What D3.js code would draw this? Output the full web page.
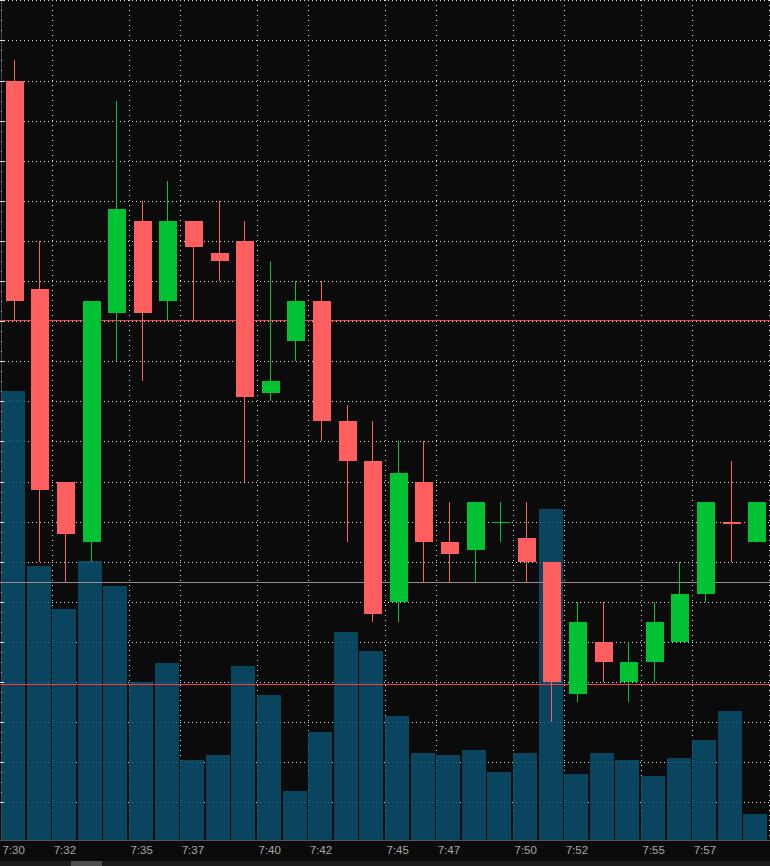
<!DOCTYPE html>
<html>
<head>
<meta charset="utf-8">
<script src="https://cdn.jsdelivr.net/npm/d3@7/dist/d3.min.js"></script>
<style>
  html, body { margin: 0; padding: 0; background: #0b0b0b; overflow: hidden; }
  svg { display: block; }
</style>
</head>
<body>
<svg id="chart" width="770" height="866"></svg>
<script>
// ---------------- DATA ----------------
const times = ["7:30","7:31","7:32","7:33","7:34","7:35","7:36","7:37","7:38","7:39",
               "7:40","7:41","7:42","7:43","7:44","7:45","7:46","7:47","7:48","7:49",
               "7:50","7:51","7:52","7:53","7:54","7:55","7:56","7:57","7:58","7:59"];
const opens  = [62.80,62.28,61.80,61.65,62.22,62.45,62.25,62.45,62.37,62.40,
                62.02,62.15,62.25,61.95,61.85,61.50,61.80,61.65,61.63,61.70,
                61.66,61.60,61.27,61.40,61.30,61.35,61.40,61.52,61.70,61.65];
const highs  = [62.85,62.40,61.80,62.25,62.75,62.50,62.55,62.45,62.50,62.45,
                62.35,62.30,62.30,61.99,61.95,61.90,61.90,61.75,61.75,61.75,
                61.75,61.60,61.50,61.50,61.40,61.50,61.60,61.75,61.85,61.75];
const lows   = [62.20,61.60,61.55,61.60,62.10,62.05,62.20,62.20,62.30,61.80,
                62.00,62.10,61.90,61.65,61.45,61.45,61.55,61.55,61.55,61.65,
                61.55,61.20,61.25,61.30,61.25,61.30,61.40,61.50,61.60,61.65];
const closes = [62.25,61.78,61.67,62.25,62.48,62.22,62.45,62.385,62.35,62.01,
                62.05,62.25,61.95,61.85,61.47,61.82,61.65,61.62,61.75,61.70,
                61.60,61.30,61.45,61.35,61.35,61.45,61.52,61.75,61.695,61.75];
const volumes = [44900,27400,23100,27900,25400,15800,17700,8000,8500,17400,
                 14500,4900,10800,20800,18900,12400,8700,8500,9000,6800,
                 8700,33100,6600,8700,8000,6400,8200,10000,12900,2600];
const tickLabels = ["7:30","7:32","7:35","7:37","7:40","7:42","7:45","7:47","7:50","7:52","7:55","7:57","8:00"];
const redLevels = [62.2025, 61.295];
const lastLevel = [61.55];

// ---------------- SETUP ----------------
const W = 770, H = 866, plotBottom = 840;
const svg = d3.select("#chart");
const parse = d3.timeParse("%H:%M");
const t0 = parse("7:30"), t1 = parse("8:00");

const x = d3.scaleTime().domain([t0, t1]).range([1, 769]);
const slot = (x(parse("7:31")) - x(t0));
const y = d3.scaleLinear().domain([60.9, 63.0]).range([842.4, 0.3]);
const yv = d3.scaleLinear().domain([0, 84000]).range([plotBottom, 0]);

const RED = "#ff5f5f", GREEN = "#00c232";

svg.append("rect").attr("width", W).attr("height", H).attr("fill", "#0b0b0b");

// grid
const gridG = svg.append("g");
const priceTicks = d3.range(0, 21).map(k => +(61.0 + k * 0.1).toFixed(2));
gridG.selectAll("line.h").data(priceTicks).join("line")
  .attr("x1", 0).attr("x2", W)
  .attr("y1", d => Math.round(y(d)) + 0.5).attr("y2", d => Math.round(y(d)) + 0.5)
  .attr("stroke", "#e0e0e0").attr("stroke-width", 1).attr("stroke-dasharray", "1,3");
const tickDates = tickLabels.map(parse);
gridG.selectAll("line.v").data(tickDates.slice(1)).join("line")
  .attr("x1", d => Math.round(x(d)) + 0.5).attr("x2", d => Math.round(x(d)) + 0.5)
  .attr("y1", 0).attr("y2", plotBottom)
  .attr("stroke", "#e0e0e0").attr("stroke-width", 1).attr("stroke-dasharray", "1,4");

// volume bars
svg.append("g").selectAll("rect").data(volumes).join("rect")
  .attr("x", (d, i) => Math.round(x(parse(times[i]))))
  .attr("width", Math.floor(slot) - 1 + 0.4)
  .attr("y", d => yv(d))
  .attr("height", d => plotBottom - yv(d))
  .attr("fill", "#0a5475").attr("fill-opacity", 0.8)
  .attr("shape-rendering", "crispEdges");

// price level lines
svg.append("g").selectAll("line").data(redLevels).join("line")
  .attr("x1", 0).attr("x2", W)
  .attr("y1", d => Math.round(y(d)) + 0.5).attr("y2", d => Math.round(y(d)) + 0.5)
  .attr("stroke", "#ff3a3a").attr("stroke-width", 1);
svg.append("g").selectAll("line").data(lastLevel).join("line")
  .attr("x1", 0).attr("x2", W)
  .attr("y1", d => Math.round(y(d)) + 0.5).attr("y2", d => Math.round(y(d)) + 0.5)
  .attr("stroke", "#9a8a8a").attr("stroke-width", 1);

// candles
const candles = times.map((t, i) => ({t: parse(t), o: opens[i], h: highs[i], l: lows[i], c: closes[i]}));
const cg = svg.append("g").selectAll("g").data(candles).join("g");
const cx = d => Math.round(x(d.t) + slot / 2);
cg.append("line")
  .attr("x1", d => cx(d) + 0.5).attr("x2", d => cx(d) + 0.5)
  .attr("y1", d => y(d.h)).attr("y2", d => y(d.l))
  .attr("stroke", d => d.c >= d.o ? GREEN : RED).attr("stroke-width", 1)
  .attr("shape-rendering", "crispEdges");
cg.append("rect")
  .attr("x", d => cx(d) - 9 + 0.5).attr("width", 18)
  .attr("y", d => y(Math.max(d.o, d.c)))
  .attr("height", d => Math.max(1, Math.abs(y(d.o) - y(d.c))))
  .attr("fill", d => d.c >= d.o ? GREEN : RED)
  .attr("shape-rendering", "crispEdges");

// left axis edge
const leftG = svg.append("g");
leftG.append("line").attr("x1", 1.5).attr("x2", 1.5).attr("y1", 0).attr("y2", plotBottom)
  .attr("stroke", "#4a4a4a");
leftG.selectAll("line.maj").data(priceTicks).join("line")
  .attr("x1", 0).attr("x2", 4)
  .attr("y1", d => Math.round(y(d)) + 0.5).attr("y2", d => Math.round(y(d)) + 0.5)
  .attr("stroke", "#e0e0e0");
const minorTicks = d3.range(0, 84).map(k => 61.0 + k * 0.025).filter((d, k) => k % 4 !== 0);
leftG.selectAll("rect.min").data(minorTicks).join("rect")
  .attr("x", 1).attr("width", 1).attr("height", 1)
  .attr("y", d => Math.round(y(d)))
  .attr("fill", "#bbbbbb");

// bottom axis
const axisG = svg.append("g").attr("transform", `translate(0,${plotBottom})`)
  .call(d3.axisBottom(x).tickValues(tickDates).tickFormat(d3.timeFormat("%-H:%M")).tickSize(0));
axisG.select(".domain").attr("stroke", "#555").attr("d", `M0,0.5H${W}`);
axisG.selectAll("text")
  .attr("text-anchor", "start")
  .attr("x", 1).attr("y", 14).attr("dy", 0)
  .attr("fill", "#a8a8a8")
  .style("font-family", "'Liberation Sans', Arial, sans-serif")
  .style("font-size", "11.5px");

// scrollbar
svg.append("rect").attr("x", 0).attr("y", 861).attr("width", W).attr("height", 5).attr("fill", "#1c1c1c");
svg.append("rect").attr("x", 71).attr("y", 861).attr("width", 31).attr("height", 5).attr("fill", "#4e4e4e");
</script>
</body>
</html>
